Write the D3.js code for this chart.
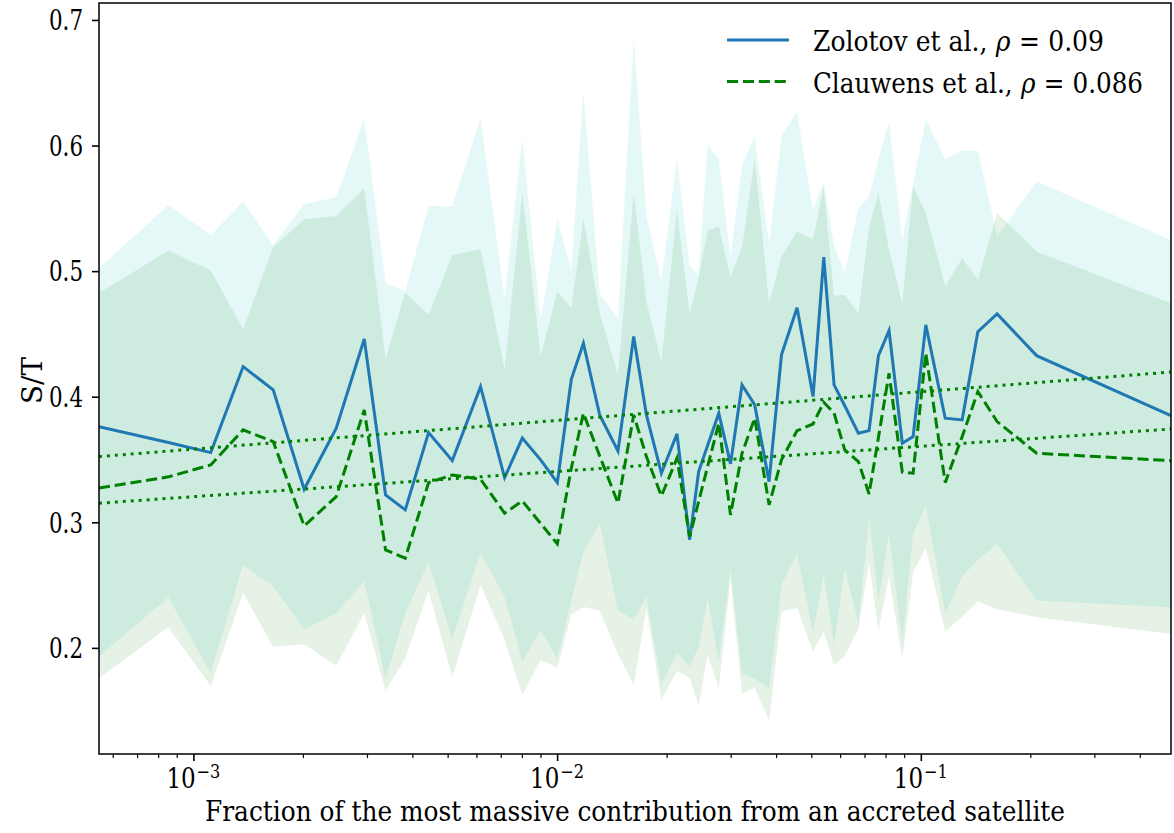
<!DOCTYPE html>
<html>
<head>
<meta charset="utf-8">
<script src="https://cdn.jsdelivr.net/npm/d3@7"></script>
<style>
  html, body { margin: 0; padding: 0; background: #ffffff; }
  svg { display: block; }
  svg text { font-family: "DejaVu Serif", "Liberation Serif", "Noto Serif", serif; fill: #000; }
</style>
</head>
<body>
<svg id="chart" width="1174" height="833"></svg>
<script>
// Fraction of the most massive accreted contribution (log axis)
const xVals = [0.000550, 0.0008535, 0.001116, 0.001370, 0.001657, 0.002016, 0.002470, 0.002949, 0.003375, 0.003823,
  0.004432, 0.005149, 0.006158, 0.007171, 0.008022, 0.009008, 0.010013, 0.01094, 0.01181, 0.01309,
  0.01470, 0.01624, 0.01760, 0.01935, 0.02136, 0.02314, 0.02450, 0.02594, 0.02783, 0.02997,
  0.03224, 0.03494, 0.03826, 0.04139, 0.04568, 0.05055, 0.05409, 0.05774, 0.06177, 0.06734,
  0.07206, 0.07647, 0.08177, 0.08893, 0.09525, 0.1032, 0.1167, 0.1299, 0.1435, 0.1621,
  0.2082, 0.4874];

// Median S/T per bin
const zolotov = [0.3762, 0.3635, 0.3555, 0.4240, 0.4054, 0.3263, 0.3749, 0.4460, 0.3218, 0.3099,
  0.3714, 0.3491, 0.4080, 0.3356, 0.3670, 0.3497, 0.3316, 0.4139, 0.4426, 0.3855,
  0.3568, 0.4479, 0.3855, 0.3391, 0.3704, 0.2860, 0.3404, 0.3613, 0.3869, 0.3465,
  0.4094, 0.3935, 0.3324, 0.4333, 0.4709, 0.4001, 0.5111, 0.4094, 0.3928, 0.3709,
  0.3730, 0.4327, 0.4526, 0.3630, 0.3682, 0.4572, 0.3829, 0.3815, 0.4518, 0.4659,
  0.4327, 0.3850];
const clauwens = [0.3272, 0.3362, 0.3457, 0.3736, 0.3643, 0.2971, 0.3205, 0.3895, 0.2780, 0.2714,
  0.3316, 0.3377, 0.3343, 0.3072, 0.3170, 0.2991, 0.2828, 0.3430, 0.3869, 0.3529,
  0.3152, 0.3855, 0.3523, 0.3210, 0.3510, 0.2886, 0.3166, 0.3446, 0.3789, 0.3059,
  0.3550, 0.3829, 0.3139, 0.3497, 0.3730, 0.3783, 0.3956, 0.3869, 0.3576, 0.3484,
  0.3226, 0.3675, 0.4187, 0.3399, 0.3391, 0.4346, 0.3316, 0.3682, 0.4041, 0.3802,
  0.3550, 0.3491];

// Scatter envelopes per bin
const zolotovHigh = [0.5023, 0.5527, 0.5288, 0.5553, 0.5209, 0.5535, 0.5588, 0.6217, 0.4904, 0.4842,
  0.5519, 0.5514, 0.6217, 0.4784, 0.6058, 0.4617, 0.5413, 0.5010, 0.6429, 0.4824,
  0.4625, 0.6867, 0.5439, 0.4930, 0.5899, 0.5036, 0.4970, 0.6013, 0.5891, 0.5115,
  0.5846, 0.6071, 0.5222, 0.6071, 0.6270, 0.5487, 0.5705, 0.5209, 0.4988, 0.5501,
  0.5593, 0.5899, 0.6190, 0.5248, 0.5702, 0.6209, 0.5891, 0.5959, 0.5959, 0.5275,
  0.5713, 0.5248];
const zolotovLow = [0.1931, 0.2404, 0.1799, 0.2661, 0.2488, 0.2149, 0.2276, 0.2528, 0.1759, 0.2276,
  0.2679, 0.2069, 0.2754, 0.2408, 0.1891, 0.2143, 0.1918, 0.2374, 0.2767, 0.2993,
  0.2297, 0.2225, 0.2408, 0.1713, 0.1963, 0.1851, 0.2010, 0.2392, 0.1891, 0.2631,
  0.1797, 0.1753, 0.1675, 0.2502, 0.2748, 0.2127, 0.2589, 0.2020, 0.2635, 0.2197,
  0.3033, 0.2376, 0.2913, 0.2050, 0.2908, 0.3131, 0.2276, 0.2568, 0.2701, 0.2828,
  0.2377, 0.2324];
const clauwensHigh = [0.4826, 0.5163, 0.5004, 0.4537, 0.5193, 0.5413, 0.5439, 0.5660, 0.4307, 0.4830,
  0.4651, 0.5129, 0.5174, 0.4219, 0.5625, 0.4325, 0.4837, 0.4705, 0.5421, 0.4670,
  0.4174, 0.5625, 0.4757, 0.4280, 0.5487, 0.4659, 0.4954, 0.5322, 0.5360, 0.4951,
  0.5190, 0.5899, 0.4744, 0.5115, 0.5315, 0.5254, 0.5673, 0.4803, 0.4811, 0.4665,
  0.5354, 0.5625, 0.5169, 0.4744, 0.5670, 0.5463, 0.4877, 0.5103, 0.4930, 0.5461,
  0.5155, 0.4744];
const clauwensLow = [0.1759, 0.2165, 0.1697, 0.2436, 0.2010, 0.2029, 0.1857, 0.2276, 0.1660, 0.1918,
  0.2456, 0.1767, 0.2502, 0.2064, 0.1626, 0.1904, 0.1841, 0.2263, 0.2326, 0.2295,
  0.1952, 0.1705, 0.2316, 0.1586, 0.1817, 0.1759, 0.1542, 0.1948, 0.1674, 0.2541,
  0.1634, 0.1682, 0.1419, 0.2289, 0.2316, 0.1976, 0.2127, 0.1859, 0.1936, 0.2151,
  0.2685, 0.2135, 0.2573, 0.1910, 0.2600, 0.2794, 0.2131, 0.2247, 0.2369, 0.2308,
  0.2244, 0.2111];

// Linear fits in log10(x), evaluated at the axis ends
const fitX = [0.000550, 0.4874];
const fitUpper = [0.3523, 0.4197];
const fitLower = [0.3152, 0.3743];

const yTicks = [0.2, 0.3, 0.4, 0.5, 0.6, 0.7];
const xMajorTicks = [1e-3, 1e-2, 1e-1];
const xMajorExp = ["\u22123", "\u22122", "\u22121"];
const xMinorTicks = [6e-4, 7e-4, 8e-4, 9e-4,
  2e-3, 3e-3, 4e-3, 5e-3, 6e-3, 7e-3, 8e-3, 9e-3,
  2e-2, 3e-2, 4e-2, 5e-2, 6e-2, 7e-2, 8e-2, 9e-2,
  2e-1, 3e-1, 4e-1];
const yDomain = [0.1155, 0.7135];

const seriesNames = ["Zolotov et al.,", "Clauwens et al.,"];
const seriesRho = ["0.09", "0.086"];
const xLabel = "Fraction of the most massive contribution from an accreted satellite";
const yLabel = "S/T";

// ---- layout ----
const plotLeft = 99, plotRight = 1171, plotTop = 3, plotBottom = 754;
const FS = 27;
const SERIF = '"DejaVu Serif", "Liberation Serif", "Noto Serif", serif';

const svg = d3.select("#chart");
const x = d3.scaleLog().domain([xVals[0], xVals[xVals.length - 1]]).range([plotLeft, plotRight]);
const y = d3.scaleLinear().domain(yDomain).range([plotBottom, plotTop]);

// Lay out a run of text pieces side by side, then squeeze the run horizontally
// to a given width. anchor: "start" or "middle".
function textRun(parent, pieces, x0, y0, width, anchor) {
  const g = parent.append("g");
  const inner = g.append("g");
  let cx = 0;
  pieces.forEach(p => {
    cx += p.gap || 0;
    const t = inner.append("text")
      .attr("x", cx).attr("y", p.dy || 0)
      .attr("font-size", p.size || FS)
      .text(p.text);
    if (p.italic) t.attr("font-style", "italic");
    cx += t.node().getComputedTextLength();
  });
  const s = width / cx;
  const tx = anchor === "middle" ? x0 - width / 2 : x0;
  g.attr("transform", `translate(${tx},${y0}) scale(${s},1)`);
  return g;
}

svg.append("defs").append("clipPath").attr("id", "plotClip")
  .append("rect").attr("x", plotLeft).attr("y", plotTop)
  .attr("width", plotRight - plotLeft).attr("height", plotBottom - plotTop);

const plot = svg.append("g").attr("clip-path", "url(#plotClip)");

const rows = xVals.map((v, i) => ({
  x: v, z: zolotov[i], c: clauwens[i],
  zl: zolotovLow[i], zh: zolotovHigh[i], cl: clauwensLow[i], ch: clauwensHigh[i]
}));

const band = (lo, hi) => d3.area().x(d => x(d.x)).y0(d => y(d[lo])).y1(d => y(d[hi]));

plot.append("path").datum(rows).attr("d", band("zl", "zh"))
  .attr("fill", "#00bfbf").attr("fill-opacity", 0.1);
plot.append("path").datum(rows).attr("d", band("cl", "ch"))
  .attr("fill", "#008000").attr("fill-opacity", 0.1);

const line = key => d3.line().x(d => x(d.x)).y(d => y(d[key]));

plot.append("path").datum(rows).attr("d", line("z"))
  .attr("fill", "none").attr("stroke", "#1f77b4").attr("stroke-width", 3)
  .attr("stroke-linejoin", "miter").attr("stroke-linecap", "butt");
plot.append("path").datum(rows).attr("d", line("c"))
  .attr("fill", "none").attr("stroke", "#008000").attr("stroke-width", 3)
  .attr("stroke-dasharray", "11.1,4.8").attr("stroke-linecap", "butt");

[fitUpper, fitLower].forEach(fv => {
  const pts = fitX.map((v, i) => ({ x: v, f: fv[i] }));
  plot.append("path").datum(pts).attr("d", line("f"))
    .attr("fill", "none").attr("stroke", "#008000").attr("stroke-width", 3)
    .attr("stroke-dasharray", "3,4.95").attr("stroke-linecap", "butt");
});

// ---- axes ----
const yAxis = d3.axisLeft(y).tickValues(yTicks).tickFormat(d3.format(".1f"))
  .tickSize(7).tickPadding(9).tickSizeOuter(0);
const gy = svg.append("g").attr("transform", `translate(${plotLeft},0)`).call(yAxis);
gy.attr("font-family", null).attr("font-size", null);
gy.select(".domain").remove();
gy.selectAll(".tick line").attr("stroke", "#000").attr("stroke-width", 1.6);
gy.selectAll(".tick text").attr("font-size", FS).attr("dy", "0.36em")
  .attr("textLength", 34).attr("lengthAdjust", "spacingAndGlyphs")
  .style("font-family", SERIF);

const xAxisMinor = d3.axisBottom(x).tickValues(xMinorTicks).tickFormat("").tickSize(4).tickSizeOuter(0);
const gxm = svg.append("g").attr("transform", `translate(0,${plotBottom})`).call(xAxisMinor);
gxm.select(".domain").remove();
gxm.selectAll(".tick line").attr("stroke", "#000").attr("stroke-width", 1.2);

const xAxisMajor = d3.axisBottom(x).tickValues(xMajorTicks).tickFormat("").tickSize(7).tickSizeOuter(0);
const gx = svg.append("g").attr("transform", `translate(0,${plotBottom})`).call(xAxisMajor);
gx.select(".domain").remove();
gx.selectAll(".tick line").attr("stroke", "#000").attr("stroke-width", 1.6);

// Power-of-ten labels under the major ticks
xMajorTicks.forEach((t, i) => {
  textRun(svg, [
    { text: "10" },
    { text: xMajorExp[i], size: 19, dy: -10, gap: 1 }
  ], x(t), 788, 54, "middle");
});

// Frame
svg.append("rect").attr("x", plotLeft).attr("y", plotTop)
  .attr("width", plotRight - plotLeft).attr("height", plotBottom - plotTop)
  .attr("fill", "none").attr("stroke", "#000").attr("stroke-width", 1.5);

// Axis titles
svg.append("text").attr("x", 635).attr("y", 821)
  .attr("text-anchor", "middle").attr("font-size", FS)
  .attr("textLength", 860).attr("lengthAdjust", "spacingAndGlyphs")
  .text(xLabel);

svg.append("text")
  .attr("transform", `translate(42,${(plotTop + plotBottom) / 2 + 2}) rotate(-90)`)
  .attr("text-anchor", "middle").attr("font-size", FS)
  .attr("textLength", 47).attr("lengthAdjust", "spacingAndGlyphs")
  .text(yLabel);

// ---- legend ----
const legend = svg.append("g");
const legendRows = [
  { y: 40, color: "#1f77b4", dash: null, name: seriesNames[0], rho: seriesRho[0], width: 291 },
  { y: 81.5, color: "#008000", dash: "11.1,4.8", name: seriesNames[1], rho: seriesRho[1], width: 330 }
];
legendRows.forEach(r => {
  const ln = legend.append("line")
    .attr("x1", 727).attr("x2", 789).attr("y1", r.y).attr("y2", r.y)
    .attr("stroke", r.color).attr("stroke-width", 3);
  if (r.dash) ln.attr("stroke-dasharray", r.dash);
  textRun(legend, [
    { text: r.name },
    { text: "\u03c1", italic: true, gap: 9 },
    { text: "=", gap: 9 },
    { text: r.rho, gap: 9 }
  ], 813, r.y + 11, r.width, "start");
});
</script>
</body>
</html>
